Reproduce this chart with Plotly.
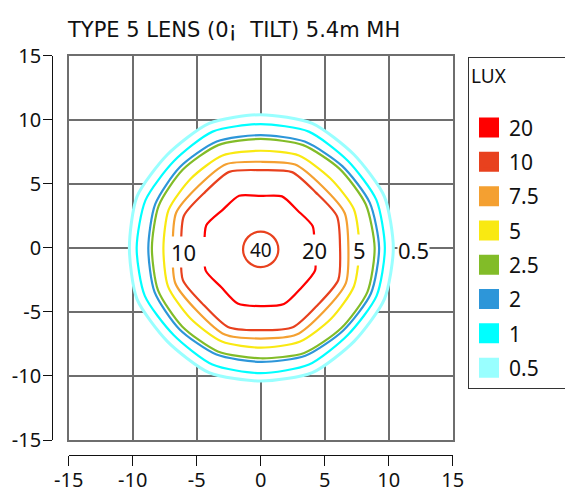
import numpy as np
import plotly.graph_objects as go

# ---------------- data ----------------
TITLE = "TYPE 5 LENS (0\u00a1  TILT) 5.4m MH"
LEGEND_TITLE = "LUX"
LEVEL_NAMES = ["20", "10", "7.5", "5", "2.5", "2", "1", "0.5"]
LEVEL_COLORS = ["#FF0000", "#E8411E", "#F4A031", "#F9E912", "#82BC28", "#2D96D9", "#00FFFF", "#99FFFF"]
AXIS_TICKS = [-15, -10, -5, 0, 5, 10, 15]
AXIS_TICK_TEXT = ["-15", "-10", "-5", "0", "5", "10", "15"]

# contour radii in metres, 16 directions counter-clockwise from east (every 22.5 deg)
ANGLES_DEG = [0, 22.5, 45, 67.5, 90, 112.5, 135, 157.5, 180, 202.5, 225, 247.5, 270, 292.5, 315, 337.5]
R_40 = [1.38, 1.38, 1.38, 1.38, 1.38, 1.38, 1.38, 1.38, 1.38, 1.38, 1.38, 1.38, 1.38, 1.38, 1.38, 1.38]
R_20 = [4.20, 4.40, 4.10, 4.35, 4.05, 4.40, 4.20, 4.60, 4.40, 4.65, 4.35, 4.70, 4.55, 4.75, 4.45, 4.60]
R_10 = [6.20, 6.45, 6.10, 6.40, 6.07, 6.42, 6.15, 6.50, 6.22, 6.58, 6.30, 6.68, 6.43, 6.68, 6.30, 6.56]
R_7_5 = [6.85, 7.10, 6.80, 7.04, 6.72, 7.07, 6.85, 7.15, 6.88, 7.22, 7.00, 7.33, 7.08, 7.33, 7.00, 7.20]
R_5 = [7.70, 7.88, 7.68, 7.80, 7.58, 7.80, 7.68, 7.78, 7.60, 7.84, 7.78, 7.92, 7.79, 7.94, 7.80, 7.88]
R_2_5 = [8.90, 8.88, 8.72, 8.68, 8.50, 8.68, 8.62, 8.62, 8.50, 8.68, 8.68, 8.75, 8.62, 8.88, 8.88, 9.02]
R_2 = [9.25, 9.22, 9.02, 8.98, 8.80, 8.98, 8.92, 8.92, 8.78, 8.98, 8.98, 9.02, 8.90, 9.12, 9.12, 9.32]
R_1 = [9.70, 9.78, 9.62, 9.82, 9.66, 9.82, 9.58, 9.74, 9.69, 9.80, 9.62, 9.86, 9.78, 9.86, 9.62, 9.80]
R_0_5 = [10.36, 10.46, 10.30, 10.52, 10.40, 10.52, 10.30, 10.46, 10.26, 10.46, 10.32, 10.54, 10.40, 10.54, 10.32, 10.46]

# contour labels on the x axis line
LABEL_TEXT = ["40", "20", "10", "5", "0.5"]
LABEL_X = [0.0, 4.2, -6.06, 7.75, 11.9]
LABEL_Y = [-0.2, -0.2, -0.3, -0.2, -0.2]

FONT = "Noto Sans"
TITLE_FONT = "DejaVu Sans"

# ---------------- figure ----------------
W, H = 565, 492
ML, MR, MT, MB = 20, 5, 20, 5
PW, PH = W - ML - MR, H - MT - MB


def fx(xp):  # pixel x -> plot-area fraction
    return (xp - ML) / PW


def fy(yp):  # pixel y -> plot-area fraction
    return (H - MB - yp) / PH


def ring(radii):
    a = np.deg2rad(np.array(ANGLES_DEG + [ANGLES_DEG[0]]))
    r = np.array(list(radii) + [radii[0]])
    return r * np.cos(a), r * np.sin(a)


fig = go.Figure()

radii_by_level = [R_20, R_10, R_7_5, R_5, R_2_5, R_2, R_1, R_0_5]

for i in list(range(len(LEVEL_NAMES)))[::-1]:
    x, y = ring(radii_by_level[i])
    is_outer = LEVEL_NAMES[i] == "0.5"
    fig.add_trace(go.Scatter(
        x=x, y=y, mode="lines",
        line=dict(color=LEVEL_COLORS[i], width=3 if is_outer else 2.2,
                  shape="spline", smoothing=0.7),
        fill="toself" if is_outer else None,
        fillcolor="white" if is_outer else None,
        hoverinfo="skip", showlegend=False))

x40, y40 = ring(R_40)
fig.add_trace(go.Scatter(x=x40, y=y40 - 0.12, mode="lines",
                         line=dict(color="#E8411E", width=2.2, shape="spline", smoothing=1.0),
                         hoverinfo="skip", showlegend=False))

# legend entries (square swatches)
for name, col in zip(LEVEL_NAMES, LEVEL_COLORS):
    fig.add_trace(go.Scatter(
        x=[None], y=[None], mode="markers", name=name, legendgroup=name,
        marker=dict(symbol="square", size=16, color=col, line=dict(color=col, width=4))))

# dummy trace for the offset axes
fig.add_trace(go.Scatter(x=[None], y=[None], xaxis="x2", yaxis="y2",
                         showlegend=False, hoverinfo="skip"))

# labels on contours
for t, lx, ly in zip(LABEL_TEXT, LABEL_X, LABEL_Y):
    fig.add_annotation(x=lx, y=ly, text=t, showarrow=False,
                       font=dict(family=FONT, size=19 if t == "40" else 22, color="#111"),
                       bgcolor=None if t == "40" else "white", borderpad=0)

# gap in the 20 contour on the left side (unlabelled break)
fig.add_shape(type="rect", x0=-4.75, x1=-4.0, y0=-1.45, y1=0.85,
              fillcolor="white", line=dict(width=0), layer="above")

xd = [fx(68.7), fx(452.7)]
yd = [fy(440), fy(55.7)]

common_main = dict(range=[-15, 15], tickvals=AXIS_TICKS, showticklabels=False,
                   ticks="", showgrid=True, gridcolor="#6E6E6E", gridwidth=1.6,
                   zeroline=False, showline=True, mirror=True, linecolor="#6E6E6E",
                   linewidth=1.6, fixedrange=True)
common_off = dict(range=[-15, 15], tickvals=AXIS_TICKS, ticktext=AXIS_TICK_TEXT,
                  showgrid=False, zeroline=False, showline=True, linecolor="#111",
                  linewidth=1.3, ticks="outside", tickwidth=1.3, tickcolor="#111",
                  tickfont=dict(family=FONT, size=20, color="#111"), fixedrange=True,
                  automargin=False)

fig.update_layout(
    width=W, height=H,
    margin=dict(l=ML, r=MR, t=MT, b=MB, autoexpand=False),
    paper_bgcolor="white", plot_bgcolor="white",
    font=dict(family=FONT, color="#111"),
    xaxis=dict(domain=xd, **common_main),
    yaxis=dict(domain=yd, **common_main),
    xaxis2=dict(domain=xd, overlaying="x", anchor="free", position=fy(455), side="bottom",
                ticklen=10, ticklabelstandoff=-3, **common_off),
    yaxis2=dict(domain=yd, overlaying="y", anchor="free", position=fx(52.3), side="left",
                ticklen=9, ticklabelstandoff=-2, **common_off),
    legend=dict(x=fx(468), y=fy(57), xanchor="left", yanchor="top",
                bordercolor="#333", borderwidth=1, bgcolor="white",
                title=dict(text=LEGEND_TITLE + "<br>" + "\u00a0" * 19,
                           font=dict(family=FONT, size=19, color="#111")),
                font=dict(family=FONT, size=21, color="#111"),
                tracegroupgap=4, traceorder="grouped"),
    showlegend=True,
)

fig.add_annotation(text=TITLE, xref="paper", yref="paper", x=fx(65), y=fy(30),
                   xanchor="left", yanchor="middle", showarrow=False,
                   font=dict(family=TITLE_FONT, size=21, color="#111"))

fig.write_html("out.html", post_script="document.body.style.margin='0';",
               config={"displayModeBar": False})
